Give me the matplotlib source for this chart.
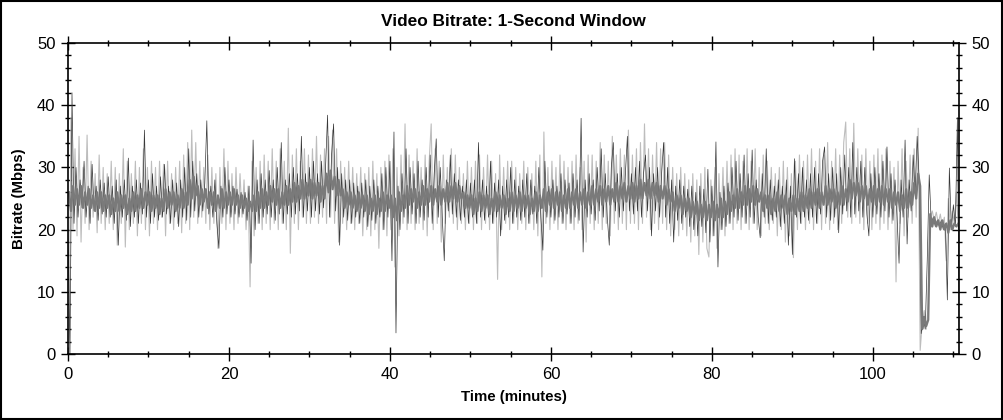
import numpy as np
import matplotlib
matplotlib.use('Agg')
import matplotlib.pyplot as plt
from matplotlib.patches import Rectangle
from matplotlib.ticker import MultipleLocator

plt.rcParams['font.family'] = ['Liberation Sans', 'DejaVu Sans']

STEP = 0.25  # minutes between samples

# dark trace, one value every 0.25 min starting at 0
dark = [
    20, 0, 42, 21, 30, 22, 28, 23.5, 31, 22, 27, 21, 30.5, 23, 27, 21.5, 28, 22.5, 27.5, 22,
    28.5, 22, 27, 21, 28, 17.5, 27, 22, 28, 21.5, 31.5, 20.5, 27, 22, 28, 21, 27.5, 22.5, 36, 22,
    28, 21, 29, 22, 27, 21.5, 28.5, 22, 30.5, 22.5, 27, 21, 28, 22, 27.5, 20.5, 28, 22, 30, 21.5,
    33, 22, 31, 23, 29, 22, 28, 23, 27.5, 37.5, 22.5, 27, 22, 28, 21, 17, 27, 22, 30, 22.5,
    28, 22, 27, 22.5, 26.5, 22, 26, 22.5, 26, 21.5, 27, 14.6, 34.4, 20, 28, 21, 29, 22, 28, 22.5,
    29.5, 22, 28, 21.5, 30, 22.5, 34, 21, 28, 22.5, 29, 22, 30, 22.5, 29, 23, 35, 22, 29, 23,
    30, 22, 31, 23, 29, 22.5, 31, 23.5, 30, 38.4, 22, 32, 37, 23, 30, 17.5, 29, 22, 28, 21.5,
    28, 21, 27.5, 22, 27, 21, 27.5, 22, 28, 20.5, 27, 21.5, 28, 21, 27, 22, 29, 20, 30, 22,
    31, 15, 35.7, 3.4, 27, 20, 29, 22, 33, 21, 30, 22.5, 29, 21, 31, 22, 28, 21.5, 30, 22,
    32, 21, 29, 34.6, 22, 30, 22, 15, 28, 23, 32, 22.5, 29, 22, 28, 21.5, 27, 22, 28, 21,
    27.5, 22, 28, 21, 34, 22, 28, 21.5, 27, 22, 31, 21, 27.5, 22, 28, 19, 27, 21.5, 28, 22,
    30, 21, 28, 22, 27, 21.5, 28, 22, 29, 21, 28, 22.5, 27, 21, 30, 22, 16.7, 31, 22, 27,
    22, 28, 21.5, 27, 22, 29, 21, 28, 22.5, 27.5, 21, 29, 22, 28, 21.5, 37.9, 16.4, 28, 22, 29,
    22.5, 28, 21.5, 30, 23, 33, 22, 29, 22, 17.5, 30, 34, 23, 29, 22, 30, 23, 29, 35, 23,
    29, 22.5, 30, 23, 31, 22, 29, 32, 23, 30, 19, 29, 23, 30, 22, 29, 34, 22, 30, 21,
    28, 18, 27, 21.5, 28, 21, 27, 22, 26.5, 20.5, 27, 20, 26, 19, 27, 20.5, 26.5, 19.5, 29.7, 18,
    27, 19, 34.1, 14, 26, 20, 27, 20.5, 27.5, 21, 30, 22, 31, 21.5, 29, 22, 32, 21, 29, 22,
    32.8, 21, 28, 22, 18.7, 29, 22, 33, 21, 28, 21.5, 27, 22, 28, 20.5, 27, 21, 28, 17.5, 27,
    16, 31.4, 22, 29, 21, 30, 22, 28, 21.5, 29, 22, 30, 21, 29, 22.5, 31, 33.3, 22, 29, 21.5,
    30, 22, 29, 19.5, 30, 22.5, 32, 23, 30, 22, 34, 22.5, 30, 23, 31, 22, 30, 22.5, 19, 29,
    22, 30, 22.5, 29, 22, 31, 23, 33.3, 22, 29, 21.5, 28, 22, 14.6, 28, 22, 34.4, 17.7, 28, 23,
    32, 26, 35, 28, 3.3, 6, 4, 15, 28.8, 21, 22, 20.5, 21.5, 20.5, 21.5, 20, 21, 8.7, 29.9, 20,
    24, 20.5, 38, 0,
]

# light trace, one value every 0.25 min starting at 0.125
light = [
    0, 38, 20, 33, 19, 35, 18, 30, 21, 35.2, 20, 31, 22, 29, 19.5, 32, 21, 30, 20, 29,
    21, 31, 20, 30, 17.5, 29, 21, 33, 17.2, 31, 20, 29, 21, 31, 19, 30, 21, 33, 20, 30,
    19, 31, 21, 30, 20, 31, 22, 30.5, 19, 31, 21, 29, 20, 30, 21, 31, 19.5, 32, 21, 34,
    20, 36, 22, 34, 21, 31, 22, 30, 21, 32, 20, 30, 21, 29, 17, 30, 21, 33, 20, 31,
    21, 29, 20, 30, 21, 29, 22, 28, 20, 27, 10.8, 31, 19, 30, 21, 31, 20, 32, 21, 31,
    20, 33, 21, 31, 20, 33, 21, 31, 20, 36.3, 16.2, 32, 21, 33, 20, 31, 22, 33, 21, 32,
    21, 33, 22, 35, 21, 32, 22, 33, 21, 35, 22, 36, 21, 33, 18, 31, 21, 30, 20, 31,
    21, 30, 20, 29, 21, 30, 19, 29, 20, 30, 19, 31, 20, 29, 17, 30, 20, 31, 19, 32,
    20, 33, 14, 30, 19, 32, 21, 37, 20, 32, 21, 31, 20, 33, 21, 30, 20, 32, 19, 31,
    37, 20, 33, 21, 31, 18, 32, 21, 30, 22, 33, 21, 32, 20, 30, 21, 29, 20, 31, 21,
    30, 20, 31, 21, 32, 20, 30, 21, 32, 20, 31, 21, 29, 12, 32, 20, 30, 21, 31, 20,
    31, 21, 30, 20, 29, 21, 31, 20, 30, 21, 29, 20, 31, 19, 32, 12.4, 35.7, 21, 30, 20,
    31, 21, 30, 20, 32, 21, 31, 20, 30, 21, 31, 20, 32, 21, 30, 20, 31, 18, 32, 21,
    32, 20, 31, 21, 34, 20, 32, 21, 31, 19, 35, 21, 32, 20, 33, 21, 32, 20, 36, 21,
    32, 21, 33, 20, 34, 21, 37, 22, 33, 20, 32, 21, 34, 20, 33, 21, 34, 20, 32, 19,
    30, 20, 29, 19, 30, 20, 29, 19, 28, 18, 29, 19, 28, 16, 29, 18, 30, 17, 15.6, 28,
    19, 30, 17, 29, 20, 30, 19, 31, 21, 32, 20, 33, 21, 32, 20, 31, 21, 33, 20, 31,
    21, 33, 20, 30, 19, 32, 21, 31, 20, 30, 21, 29, 19, 30, 20, 31, 18, 30, 19, 29,
    15.5, 31, 20, 32, 21, 31, 20, 32, 21, 33, 20, 31, 21, 33, 20, 32, 21, 34, 20, 31,
    21, 33, 20, 32, 21, 34, 37.3, 22, 33, 21, 37.1, 22, 33, 21, 32, 20, 33, 21, 31, 20,
    32, 21, 33, 20, 32, 21, 33, 20, 31, 21, 30, 11.6, 31, 21, 33, 19, 31, 22, 32, 21,
    33, 22, 36.3, 0.6, 5, 7, 4, 8, 22, 23, 21.5, 22.8, 21, 22.5, 20.5, 22, 15, 25, 20, 23,
    21, 26, 20,
]

# mid-grey dense band, one value every 0.25 min starting at 0.125
mid = [
    26, 23, 27, 24, 26.5, 24, 27, 23.5, 26, 24, 26.5, 23.5, 25.5, 23, 26, 23.5, 26, 23, 25.5, 23.5,
    25.5, 22.5, 25, 23, 26, 23, 25.5, 23.5, 25.5, 22.5, 25, 23, 26, 23, 25.5, 23.5, 26.5, 23.5, 26, 24,
    26, 23, 25.5, 23.5, 25.5, 22.5, 25, 23, 26.5, 23.5, 26, 24, 26, 23, 25.5, 23.5, 26.5, 23.5, 26, 24,
    28, 25, 28.5, 25.5, 27, 24, 26.5, 24.5, 26.5, 23.5, 26, 24, 26, 23, 25.5, 23.5, 26.5, 23.5, 26, 24,
    26, 24, 26.5, 24, 25.5, 23.5, 25.5, 23.5, 25, 23, 24.5, 23, 25.5, 23, 26, 23.5, 26.5, 23.5, 26, 24,
    27, 24.5, 26.5, 24, 26.5, 23.5, 26, 24, 27, 24, 26.5, 24.5, 27.5, 24.5, 27, 25, 28, 25, 27.5, 25.5,
    28, 25, 27.5, 25.5, 27.5, 24.5, 27, 25, 29, 26, 29.5, 26.5, 28.5, 25.5, 28, 25.5, 26.5, 23.5, 26, 24,
    26, 23.5, 25.5, 23, 26, 23.5, 25.5, 23, 25.5, 22.5, 25, 23, 25.5, 22.5, 25, 23, 26, 23, 25.5, 23.5,
    25.5, 22, 25, 21.5, 26, 23, 25.5, 23.5, 27, 24, 26.5, 24.5, 26.5, 23.5, 26, 24, 27, 24, 26.5, 24.5,
    27, 24, 26.5, 24.5, 27, 24, 26.5, 24.5, 27.5, 24.5, 27, 25, 27.5, 24.5, 27, 25, 26, 23.5, 25.5, 23.5,
    25.5, 22.5, 25, 23, 26, 23, 25.5, 23.5, 25.5, 22.5, 25, 23, 26, 23, 25.5, 23.5, 25.5, 22.5, 25, 23,
    26, 23, 25.5, 23.5, 26, 23, 25.5, 23.5, 25.5, 22.5, 25, 23, 26, 23, 25.5, 23.5, 26.5, 23, 26, 24,
    26.5, 23.5, 26, 24, 26, 23, 25.5, 23.5, 26.5, 23.5, 26, 24, 26.5, 23.5, 26, 24, 26.5, 23.5, 26, 24,
    27, 24, 26.5, 24.5, 27, 24, 26.5, 24.5, 27, 24, 26.5, 24.5, 27.5, 24.5, 27, 25, 27.5, 24.5, 27, 25,
    27.5, 24.5, 27, 25, 28, 25, 27.5, 25.5, 28, 25, 27.5, 25.5, 27.5, 24.5, 27, 25, 27, 24, 26.5, 24.5,
    26, 23, 25.5, 23.5, 25.5, 22.5, 25, 23, 25, 22, 24.5, 22.5, 24.5, 21.5, 24, 22, 24.5, 21.5, 24, 22,
    24.5, 21.5, 24, 22, 25, 22, 24.5, 22.5, 26, 23, 25.5, 23.5, 26.5, 23.5, 26, 24, 27, 24, 26.5, 24.5,
    27, 24, 26.5, 24.5, 26, 23, 25.5, 23.5, 25.5, 22.5, 25, 23, 26, 23, 25.5, 23.5, 25.5, 22.5, 25, 23,
    25.5, 22.5, 25, 23, 26, 23, 25.5, 23.5, 26.5, 23.5, 26, 24, 26.5, 23.5, 26, 24, 27, 24, 26.5, 24.5,
    26.5, 23.5, 26, 24, 27, 24, 26.5, 24.5, 28, 25, 27.5, 25.5, 27.5, 24.5, 27, 25, 27, 24, 26.5, 24.5,
    27, 24, 26.5, 24.5, 27, 24, 26.5, 24.5, 26.5, 23.5, 26, 24, 26, 23, 25.5, 23.5, 26.5, 23.5, 26, 24,
    27.5, 25, 29, 27, 4, 6, 4.5, 5.5, 22.5, 20.5, 22, 20.5, 21.5, 20, 21.5, 20, 21, 19.5, 21.5, 20,
    21, 20.5, 21,
]

t_dark = np.arange(len(dark)) * STEP
t_light = np.arange(len(light)) * STEP + STEP / 2
t_mid = np.arange(len(mid)) * STEP + STEP / 2

fig = plt.figure(figsize=(10.04, 4.2), dpi=100)
ax = fig.add_axes([0.0677, 0.157, 0.8875, 0.7406])

ax.plot(t_light, light, color='#bdbdbd', lw=0.8)
ax.plot(t_dark, dark, color='#383838', lw=0.5)
ax.plot(t_mid, mid, color='#7a7a7a', lw=1.6)

ax.set_xlim(0, 110.7)
ax.set_ylim(0, 50)
ax.xaxis.set_major_locator(MultipleLocator(20))
ax.xaxis.set_minor_locator(MultipleLocator(5))
ax.yaxis.set_major_locator(MultipleLocator(10))
ax.yaxis.set_minor_locator(MultipleLocator(2))
ax.tick_params(which='both', direction='inout', top=True, right=True,
               labelright=True, labelsize=12, colors='black', width=1)
ax.tick_params(which='major', length=10, pad=4)
ax.tick_params(which='minor', length=5)
for s in ax.spines.values():
    s.set_linewidth(1.2)

ax.set_title('Video Bitrate: 1-Second Window', fontsize=12.4, fontweight='bold', pad=12)
ax.set_xlabel('Time (minutes)', fontsize=10.8, fontweight='bold', labelpad=6)
ax.set_ylabel('Bitrate (Mbps)', fontsize=10.8, fontweight='bold', labelpad=8)

fig.patches.append(Rectangle((0.001, 0.002), 0.997, 0.995, transform=fig.transFigure,
                             fill=False, edgecolor='black', lw=1.5))

fig.savefig('out.png', dpi=100)
